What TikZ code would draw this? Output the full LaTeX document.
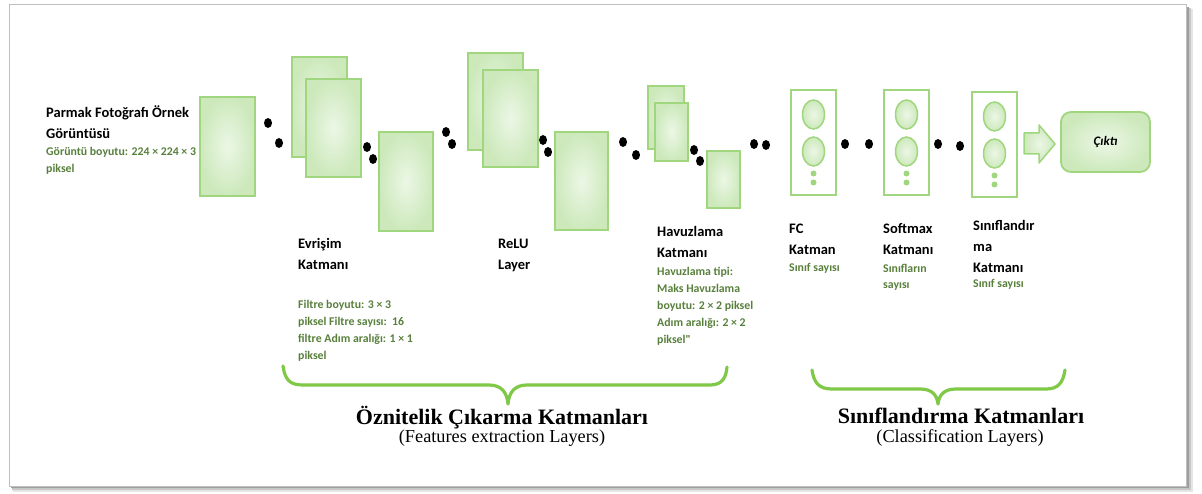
\documentclass[tikz,border=0pt]{standalone}
\usepackage{fontspec}
\setmainfont{Liberation Serif}
\newfontfamily\calfont{Carlito}
\usetikzlibrary{shapes.geometric}
\definecolor{gborder}{RGB}{160,214,126}
\definecolor{gfill}{RGB}{205,233,188}
\definecolor{gin}{RGB}{236,247,230}
\definecolor{gtext}{RGB}{88,128,60}
\definecolor{bracecol}{RGB}{128,200,72}
\begin{document}
\begin{tikzpicture}[x=1pt,y=-1pt,
  fmap/.style={draw=gborder, line width=1.8pt, inner color=gin, outer color=gfill, inner sep=0},
  neuron/.style={ellipse, draw=gborder, line width=1.5pt, inner color=gin, outer color=gfill, minimum width=22, minimum height=29, inner sep=0},
  minidot/.style={circle, fill=gborder, minimum size=6, inner sep=0},
  bdot/.style={ellipse, fill=black, minimum width=8, minimum height=10, inner sep=0},
  head/.style={anchor=base west, align=left, inner sep=0, font=\calfont\bfseries\fontsize{14.5}{21.5}\selectfont},
  info/.style={anchor=base west, align=left, inner sep=0, text=gtext, font=\calfont\bfseries\fontsize{11.8}{17}\selectfont},
  title/.style={anchor=base, inner sep=0, font=\bfseries\fontsize{22}{26}\selectfont},
  subtitle/.style={anchor=base, inner sep=0, font=\fontsize{18.3}{22}\selectfont},
  bracepath/.style={draw=bracecol, line width=3.2pt, line cap=round, line join=round}]
\useasboundingbox (0,0) rectangle (1202,494);
\fill[white] (0,0) rectangle (1202,494);
% frame with shadow
\fill[black!10] (13,9) rectangle (1193,492);
\fill[black!22] (12,8) rectangle (1191,490);
\fill[black!38] (11,7) rectangle (1189,488);
\filldraw[fill=white, draw=black!25, line width=0.8pt] (9,4) rectangle (1186,486);

% input (multi-line nodes: base = baseline of the last line)
\node[fmap, minimum width=55, minimum height=99] (inp) at (227.5,146.5) {};
\node[head] (inplab) at (46,139) {Parmak Fotoğrafı Örnek\\Görüntüsü};
\node[info] (inpinfo) at (46,173) {Görüntü boyutu: 224 × 224 × 3\\piksel};

% convolution
\node[fmap, minimum width=55, minimum height=100] (c1) at (319.5,107) {};
\node[fmap, minimum width=55, minimum height=98] (c2) at (333.5,128) {};
\node[fmap, minimum width=54, minimum height=99] (c3) at (406,181.5) {};
\node[head] (clab) at (298,270) {Evrişim\\Katmanı};
\node[info] (cinfo) at (298,359) {Filtre boyutu: 3 × 3\\piksel Filtre sayısı:\ \ 16\\filtre Adım aralığı: 1 × 1\\piksel};

% relu
\node[fmap, minimum width=55, minimum height=97] (r1) at (495.5,101.5) {};
\node[fmap, minimum width=55, minimum height=97] (r2) at (510.5,118.5) {};
\node[fmap, minimum width=53, minimum height=98] (r3) at (581.5,181) {};
\node[head] (rlab) at (498,270) {ReLU\\Layer};

% pooling
\node[fmap, minimum width=36, minimum height=63] (p1) at (666,117.5) {};
\node[fmap, minimum width=33, minimum height=58] (p2) at (671.5,132) {};
\node[fmap, minimum width=33, minimum height=57] (p3) at (723.5,179.5) {};
\node[head] (plab) at (657,258) {Havuzlama\\Katmanı};
\node[info] (pinfo) at (657,343) {Havuzlama tipi:\\Maks Havuzlama\\boyutu: 2 × 2 piksel\\Adım aralığı: 2 × 2\\piksel"};

% FC, softmax, classification
\foreach \n/\x/\y in {fc/813.5/142.5, sm/906.5/142.5, cl/994.5/144.5}{
  \node[draw=gborder, line width=1.8pt, fill=white, minimum width=45, minimum height=105, inner sep=0] (\n) at (\x,\y) {};
  \node[neuron] (\n e1) at ([yshift=28]\n.center) {};
  \node[neuron] (\n e2) at ([yshift=-9]\n.center) {};
  \node[minidot] (\n d1) at ([yshift=-31]\n.center) {};
  \node[minidot] (\n d2) at ([yshift=-40]\n.center) {};
}
\node[head] (fclab) at (789,255) {FC\\Katman};
\node[info] (fcinfo) at (789,272) {Sınıf sayısı};
\node[head] (smlab) at (883,255) {Softmax\\Katmanı};
\node[info] (sminfo) at (883,289) {Sınıfların\\sayısı};
\node[head] (cllab) at (973,273) {Sınıflandır\\ma\\Katmanı};
\node[info] (clinfo) at (973,288) {Sınıf sayısı};

% block arrow and output
\filldraw[draw=gborder, line width=1.5pt, inner color=gin, outer color=gfill, line join=round]
  (1024,133) -- (1039,133) -- (1039,125) -- (1055,144) -- (1039,163) -- (1039,154) -- (1024,154) -- cycle;
\node[fmap, rounded corners=10, minimum width=89, minimum height=60, font=\calfont\bfseries\itshape\fontsize{13}{15}\selectfont] (out) at (1105.5,142) {Çıktı};

% dots
\foreach \i/\x/\y in {1/268/123, 2/279/143, 3/367/147, 4/373/159, 5/446/132, 6/452/144, 7/543/140, 8/548/152, 9/623/142, 10/636/155, 11/694/150, 12/700/161, 13/754/144, 14/766/145, 15/845/144, 16/869/144, 17/938/144, 18/960/146}
  \node[bdot] (dot\i) at (\x,\y) {};

% braces
\path[bracepath] (283,366) .. controls (285,380) and (290,385) .. (303,385) -- (489,385)
  .. controls (501,385) and (507,392) .. (508,404)
  .. controls (509,392) and (515,385) .. (527,385) -- (710,385)
  .. controls (722,385) and (726,378) .. (727,367);
\path[bracepath] (812,370) .. controls (814,383) and (819,389) .. (832,389) -- (920,389)
  .. controls (932,389) and (937,395) .. (938,404)
  .. controls (939,395) and (944,389) .. (956,389) -- (1046,389)
  .. controls (1058,389) and (1063,383) .. (1065,370);

\node[title] (t1) at (502,424) {Öznitelik Çıkarma Katmanları};
\node[subtitle] (s1) at (502,442) {(Features extraction Layers)};
\node[title] (t2) at (961,423) {Sınıflandırma Katmanları};
\node[subtitle] (s2) at (960,442) {(Classification Layers)};
\end{tikzpicture}
\end{document}
